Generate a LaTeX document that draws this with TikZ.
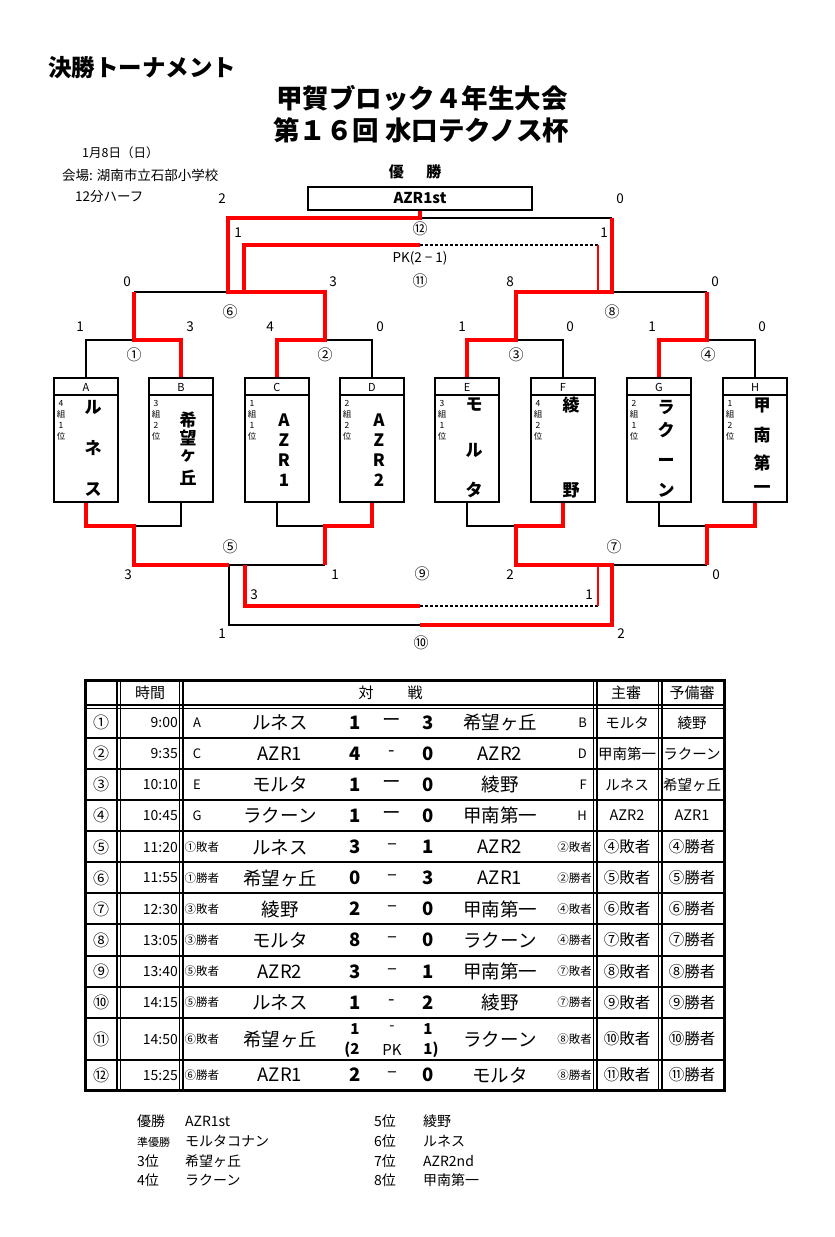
\documentclass[tikz,border=0pt]{standalone}
\usepackage{fontspec}
\setmainfont{Noto Sans CJK JP}
\definecolor{rd}{RGB}{255,0,0}
\newcommand\fsz[1]{\fontsize{#1}{#1}\selectfont}
\begin{document}
\begin{tikzpicture}[x=1pt,y=-1pt,
  t/.style={inner sep=0pt,anchor=center},
  bl/.style={line width=1.5pt,draw=black},
  wn/.style={line width=4pt,draw=rd,line join=miter},
  tr/.style={line width=1.5pt,draw=rd},
  dsh/.style={line width=1.5pt,draw=black,dash pattern=on 3pt off 2pt},
  bx/.style={line width=2pt,draw=black},
  sc/.style={t,font=\fsz{13.5}},
  cn/.style={t,font=\fsz{15}},
  tl/.style={line width=1.3pt},
  tn/.style={t,font=\fsz{18.5}},
  ts/.style={t,font=\bfseries\fsz{18.5}},
  tdash/.style={t,font=\fsz{18.5}},
]
\useasboundingbox[fill=white] (0,0) rectangle (835,1237);

% ---------- titles ----------
\node[t,anchor=west,font=\bfseries\fsz{23.5}] (title) at (48,68) {決勝トーナメント};
\node[t,font=\bfseries\fsz{26.5}] (t1) at (422,98) {甲賀ブロック４年生大会};
\node[t,font=\bfseries\fsz{26.5}] (t2) at (421,130) {第１６回 水口テクノス杯};
\node[t,anchor=west,font=\fsz{12.5}] (date) at (82,153) {1月8日（日）};
\node[t,anchor=west,font=\fsz{13.5}] (venue) at (62,175) {会場: 湖南市立石部小学校};
\node[t,anchor=west,font=\fsz{13.5}] (half) at (75,197) {12分ハーフ};
\node[t,font=\bfseries\fsz{15}] (yu) at (415,172) {優\hspace{1.5em}勝};
\node[bx,draw,minimum width=224pt,minimum height=23pt,inner sep=0pt,font=\bfseries\fsz{15}] (champ) at (420,198.5) {AZR1st};

% ---------- team boxes ----------
\foreach \n/\c in {A/86,B/181,C/277,D/372,E/467,F/563,G/659,H/755}{
  \node[bx,draw,minimum width=64pt,minimum height=124pt,inner sep=0pt] (box\n) at (\c,440) {};
  \draw[bx] ([yshift=-18pt]box\n.north west) -- ([yshift=-18pt]box\n.north east);
  \node[t,font=\fsz{11}] (lab\n) at (\c,387) {\n};
}
\foreach \n/\c/\g/\r in {A/86/4/1,B/181/3/2,C/277/1/1,D/372/2/2,E/467/3/1,F/563/4/2,G/659/2/1,H/755/1/2}{
  \node[t,font=\fsz{8.5}] (g\n a) at (\c-25,403) {\g};
  \node[t,font=\fsz{8.5}] (g\n b) at (\c-25,414) {組};
  \node[t,font=\fsz{8.5}] (g\n c) at (\c-25,425) {\r};
  \node[t,font=\fsz{8.5}] (g\n d) at (\c-25,436) {位};
}
\foreach \k/\x/\y/\ch in {
  a1/93/407/ル,a2/93/448/ネ,a3/93/490/ス,
  b1/188/420/希,b2/188/438/望,b3/188/456/ヶ,b4/188/478/丘,
  c1/284/420/A,c2/284/440/Z,c3/284/460/R,c4/284/480/1,
  d1/379/420/A,d2/379/440/Z,d3/379/460/R,d4/379/480/2,
  e1/474/405/モ,e2/474/450/ル,e3/474/490/タ,
  f1/571/405/綾,f2/571/490/野,
  g1/666/407/ラ,g2/666/430/ク,g3/666/462/ー,g4/666/490/ン,
  h1/762/405/甲,h2/762/435/南,h3/762/463/第,h4/762/490/一}{
  \node[t,font=\bfseries\fsz{17}] (nm\k) at (\x,\y) {\ch};
}

% ---------- bracket: black lines ----------
\draw[bl] (boxA.north) |- (134,340);
\draw[bl] (boxD.north) |- (325,340);
\draw[bl] (boxF.north) |- (516,340);
\draw[bl] (boxH.north) |- (707,340);
\draw[bl] (134,292) -- (228,292);
\draw[bl] (612,292) -- (707,292);
\draw[bl] (420,218) -- (612,218);
\draw[bl] (boxB.south) |- (134,526);
\draw[bl] (boxC.south) |- (325,526);
\draw[bl] (boxE.south) |- (516,526);
\draw[bl] (boxG.south) |- (707,526);
\draw[bl] (229,565) -- (325,565);
\draw[bl] (612,565) -- (707,565);
\draw[bl] (229,565) -- (229,625) -- (420,625);
% dashed and thin red
\draw[dsh] (420,245) -- (598,245);
\draw[tr] (598,245) -- (598,292);
\draw[dsh] (420,606) -- (598,606);
\draw[tr] (598,606) -- (598,565);
% ---------- bracket: red winner lines ----------
\draw[wn] (boxB.north) |- (134,340) -- (134,292);
\draw[wn] (boxC.north) |- (325,340) -- (325,292) -- (228,292) -- (228,218) -- (420,218) -- (champ.south);
\draw[wn] (boxE.north) |- (516,340) -- (516,292) -- (612,292) -- (612,218);
\draw[wn] (boxG.north) |- (707,340) -- (707,292);
\draw[wn] (244,292) -- (244,245) -- (420,245);
\draw[wn] (boxA.south) |- (134,526) -- (134,565) -- (229,565);
\draw[wn] (boxD.south) |- (325,526) -- (325,565);
\draw[wn] (245,565) -- (245,606) -- (420,606);
\draw[wn] (boxF.south) |- (516,526) -- (516,565) -- (612,565) -- (612,625) -- (420,625);
\draw[wn] (boxH.south) |- (707,526) -- (707,565);

% ---------- bracket scores ----------
\foreach \k/\x/\y/\s in {s1/222/199/2,s2/620/199/0,s3/238/233/1,s4/604/233/1,
  s5/127/282/0,s6/333/282/3,s7/510/282/8,s8/715/282/0,
  s9/80/327/1,s10/190/327/3,s11/270/327/4,s12/380/327/0,
  s13/462/327/1,s14/570/327/0,s15/652/327/1,s16/762/327/0,
  s17/128/575/3,s18/335/575/1,s19/510/575/2,s20/716/575/0,
  s21/254/595/3,s22/589/595/1,s23/222/634/1,s24/621/634/2}{
  \node[sc] (\k) at (\x,\y) {\s};
}
\node[sc] (pk) at (420,258) {PK(2 − 1)};
\foreach \k/\x/\y/\s in {m12/420/229/⑫,m11/420/281/⑪,m6/230/312/⑥,m8/612/312/⑧,
  m1/134/355/①,m2/325/355/②,m3/516/355/③,m4/708/355/④,
  m5/230/547/⑤,m7/614/547/⑦,m9/422/574/⑨,m10/421/643/⑩}{
  \node[cn] (\k) at (\x,\y) {\s};
}

% ---------- table ----------
\foreach \yy in {738,769,800,831,862,893,924,956,987,1018,1060}{
  \draw[line width=1.8pt] (85,\yy) -- (725,\yy);
}
\draw[tl] (85,705) -- (725,705);
\draw[tl] (85,708.5) -- (725,708.5);
\foreach \xx in {117,120.5,179.5,183,593.5,597,658.5,662}{
  \draw[tl] (\xx,680) -- (\xx,1090);
}
\draw[line width=3pt] (85.5,680.5) rectangle (724.5,1090.5);
\node[t,font=\fsz{15}] (hTime) at (150,693) {時間};
\node[t,font=\fsz{15}] (hTai) at (366,693) {対};
\node[t,font=\fsz{15}] (hSen) at (415,693) {戦};
\node[t,font=\fsz{15}] (hRef) at (626,693) {主審};
\node[t,font=\fsz{15}] (hSub) at (692,693) {予備審};

\foreach \i/\yy/\n/\tm/\L/\ta/\sa/\dd/\sb/\tb/\R/\ra/\rb in {
  1/722.5/①/9:00/A/ルネス/1/ー/3/希望ヶ丘/B/モルタ/綾野,
  2/753.5/②/9:35/C/AZR1/4/-/0/AZR2/D/甲南第一/ラクーン,
  3/784.5/③/10:10/E/モルタ/1/ー/0/綾野/F/ルネス/希望ヶ丘,
  4/815.5/④/10:45/G/ラクーン/1/ー/0/甲南第一/H/AZR2/AZR1}{
  \node[t,font=\fsz{16}] (rn\i) at (101,\yy) {\n};
  \node[t,anchor=east,font=\fsz{14}] (rt\i) at (178,\yy) {\tm};
  \node[t,font=\fsz{13}] (rl\i) at (197,\yy) {\L};
  \node[tn] (ra\i) at (280,\yy) {\ta};
  \node[ts] (rs\i) at (355,\yy) {\sa};
  \node[tdash] (rd\i) at (392,\yy) {\dd};
  \node[ts] (ru\i) at (428,\yy) {\sb};
  \node[tn] (rb\i) at (500,\yy) {\tb};
  \node[t,anchor=east,font=\fsz{13}] (rr\i) at (587,\yy) {\R};
  \node[t,font=\fsz{14.5}] (rx\i) at (627,\yy) {\ra};
  \node[t,font=\fsz{14.5}] (ry\i) at (692,\yy) {\rb};
}
\foreach \i/\yy/\n/\tm/\L/\ta/\sa/\dd/\sb/\tb/\R/\ra/\rb in {
  5/847/⑤/11:20/①敗者/ルネス/3/–/1/AZR2/②敗者/④敗者/④勝者,
  6/878/⑥/11:55/①勝者/希望ヶ丘/0/–/3/AZR1/②勝者/⑤敗者/⑤勝者,
  7/909/⑦/12:30/③敗者/綾野/2/–/0/甲南第一/④敗者/⑥敗者/⑥勝者,
  8/940/⑧/13:05/③勝者/モルタ/8/–/0/ラクーン/④勝者/⑦敗者/⑦勝者,
  9/971.5/⑨/13:40/⑤敗者/AZR2/3/–/1/甲南第一/⑦敗者/⑧敗者/⑧勝者,
  10/1002.5/⑩/14:15/⑤勝者/ルネス/1/-/2/綾野/⑦勝者/⑨敗者/⑨勝者,
  12/1075/⑫/15:25/⑥勝者/AZR1/2/–/0/モルタ/⑧勝者/⑪敗者/⑪勝者}{
  \node[t,font=\fsz{16}] (rn\i) at (101,\yy) {\n};
  \node[t,anchor=east,font=\fsz{14}] (rt\i) at (178,\yy) {\tm};
  \node[t,anchor=west,font=\fsz{11.5}] (rl\i) at (184.5,\yy) {\L};
  \node[tn] (ra\i) at (280,\yy) {\ta};
  \node[ts] (rs\i) at (355,\yy) {\sa};
  \node[tdash] (rd\i) at (392,\yy) {\dd};
  \node[ts] (ru\i) at (428,\yy) {\sb};
  \node[tn] (rb\i) at (500,\yy) {\tb};
  \node[t,anchor=east,font=\fsz{11.5}] (rr\i) at (592,\yy) {\R};
  \node[t,font=\fsz{15.5}] (rx\i) at (627,\yy) {\ra};
  \node[t,font=\fsz{15.5}] (ry\i) at (692,\yy) {\rb};
}
% row 11 (PK)
\node[t,font=\fsz{16}] (rn11) at (101,1039) {⑪};
\node[t,anchor=east,font=\fsz{14}] (rt11) at (178,1039) {14:50};
\node[t,anchor=west,font=\fsz{11.5}] (rl11) at (184.5,1039) {⑥敗者};
\node[tn] (ra11) at (280,1039) {希望ヶ丘};
\node[t,font=\bfseries\fsz{15}] (rs11) at (355,1029) {1};
\node[t,font=\fsz{15}] (rd11) at (392,1028) {-};
\node[t,font=\bfseries\fsz{15}] (ru11) at (428,1029) {1};
\node[t,font=\bfseries\fsz{15}] (rp11) at (352,1050) {(2};
\node[t,font=\fsz{15}] (rk11) at (392,1050) {PK};
\node[t,font=\bfseries\fsz{15}] (rq11) at (431,1050) {1)};
\node[tn] (rb11) at (500,1039) {ラクーン};
\node[t,anchor=east,font=\fsz{11.5}] (rr11) at (592,1039) {⑧敗者};
\node[t,font=\fsz{15.5}] (rx11) at (627,1039) {⑩敗者};
\node[t,font=\fsz{15.5}] (ry11) at (692,1039) {⑩勝者};

% ---------- final ranking ----------
\foreach \k/\x/\y/\s in {p1/137/1121/優勝,p3/137/1161/3位,p4/137/1180/4位,
  q1/185/1121/AZR1st,q2/185/1141/モルタコナン,q3/185/1161/希望ヶ丘,q4/185/1180/ラクーン,
  p5/374/1121/5位,p6/374/1141/6位,p7/374/1161/7位,p8/374/1180/8位,
  q5/423/1121/綾野,q6/423/1141/ルネス,q7/423/1161/AZR2nd,q8/423/1180/甲南第一}{
  \node[t,anchor=west,font=\fsz{14}] (\k) at (\x,\y) {\s};
}
\node[t,anchor=west,font=\fsz{11}] (p2) at (137,1142) {準優勝};
\end{tikzpicture}
\end{document}
